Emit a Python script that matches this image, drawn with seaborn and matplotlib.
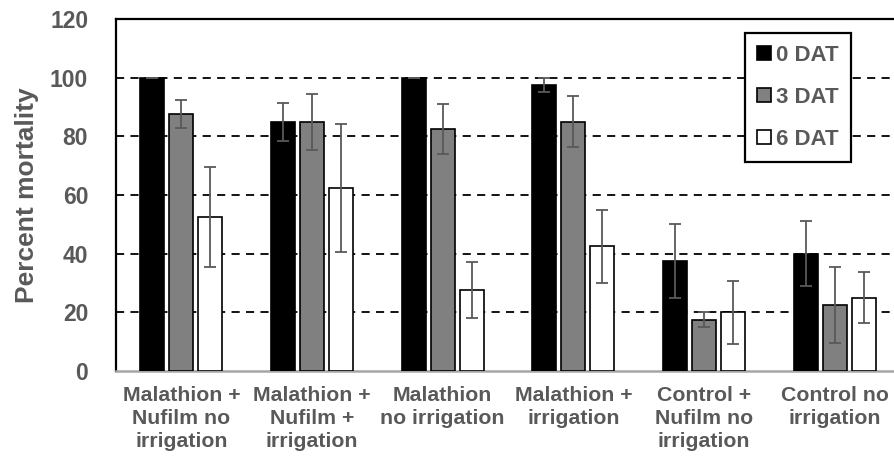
import numpy as np
import pandas as pd
import matplotlib
matplotlib.use("Agg")
import matplotlib.pyplot as plt
import seaborn as sns
from matplotlib.patches import Patch

categories = ["Malathion +\nNufilm no\nirrigation", "Malathion +\nNufilm +\nirrigation",
              "Malathion\nno irrigation", "Malathion +\nirrigation",
              "Control +\nNufilm no\nirrigation", "Control no\nirrigation"]
series = ["0 DAT", "3 DAT", "6 DAT"]
dat0 = [100, 85, 100, 97.5, 37.5, 40]
dat3 = [87.5, 85, 82.5, 85, 17.5, 22.5]
dat6 = [52.5, 62.5, 27.5, 42.5, 20, 25]
err0 = [0, 6.5, 0, 2.5, 12.5, 11]
err3 = [4.8, 9.6, 8.5, 8.6, 2.5, 13]
err6 = [17, 21.8, 9.5, 12.5, 10.7, 8.6]
yticks = [0, 20, 40, 60, 80, 100, 120]

colors = ["#000000", "#808080", "#ffffff"]
txt = "#595959"

rows = []
for s, vals, errs in zip(series, [dat0, dat3, dat6], [err0, err3, err6]):
    for c, v, e in zip(categories, vals, errs):
        rows.append({"cat": c, "series": s, "val": v, "err": e})
df = pd.DataFrame(rows)

sns.set_style("white")
plt.rcParams["font.family"] = ["Liberation Sans", "DejaVu Sans"]
plt.rcParams["font.weight"] = "bold"

fig = plt.figure(figsize=(8.94, 4.58), dpi=100)
ax = fig.add_axes([116 / 894, 1 - 371 / 458, (900 - 116) / 894, (371 - 19) / 458])

sns.barplot(data=df, x="cat", y="val", hue="series", order=categories, hue_order=series,
            palette=colors, width=0.666, gap=0.17, errorbar=None, edgecolor="black",
            linewidth=1.2, ax=ax, legend=False, zorder=3)

# error bars from bar patches
for container, s in zip(ax.containers, series):
    sub = df[df.series == s].set_index("cat").loc[categories]
    xs = [p.get_x() + p.get_width() / 2 for p in container.patches]
    ax.errorbar(xs, sub["val"].values, yerr=sub["err"].values, fmt="none",
                ecolor="#595959", elinewidth=1.3, capsize=4.3, capthick=1.3, zorder=4)

ax.set_ylim(0, 120)
ax.set_xlim(-0.5, 5.5)
ax.set_yticks(yticks)
for y in yticks[1:-1]:
    ax.axhline(y, color="black", linestyle=(0, (4.5, 3.5)), linewidth=1.3, zorder=1)

ax.tick_params(axis="y", labelsize=16.5, labelcolor=txt, length=0, pad=20)
ax.tick_params(axis="x", labelsize=15.3, labelcolor=txt, length=0, pad=11)
for lab in ax.get_xticklabels() + ax.get_yticklabels():
    lab.set_fontweight("bold")
for lab in ax.get_xticklabels():
    lab.set_linespacing(1.25)
ax.set_xlabel("")
ax.set_ylabel("Percent mortality", fontsize=19, color=txt, fontweight="bold", labelpad=8)

for sp in ["left", "top", "right"]:
    ax.spines[sp].set_color("black")
    ax.spines[sp].set_linewidth(1.6)
ax.spines["bottom"].set_color("#a6a6a6")
ax.spines["bottom"].set_linewidth(1.8)

handles = [Patch(facecolor=c, edgecolor="black", linewidth=1.2) for c in colors]
leg = fig.legend(handles, series, loc="upper left", bbox_to_anchor=(745 / 894, 1 - 33 / 458),
                 frameon=True, fancybox=False, framealpha=1, edgecolor="black",
                 prop={"size": 16, "weight": "bold"}, handlelength=0.6, handleheight=0.6,
                 handletextpad=0.25, labelspacing=0.93, borderpad=0.55, borderaxespad=0)
leg.get_frame().set_linewidth(1.6)
for t in leg.get_texts():
    t.set_color(txt)

fig.savefig("out.png", dpi=100)
